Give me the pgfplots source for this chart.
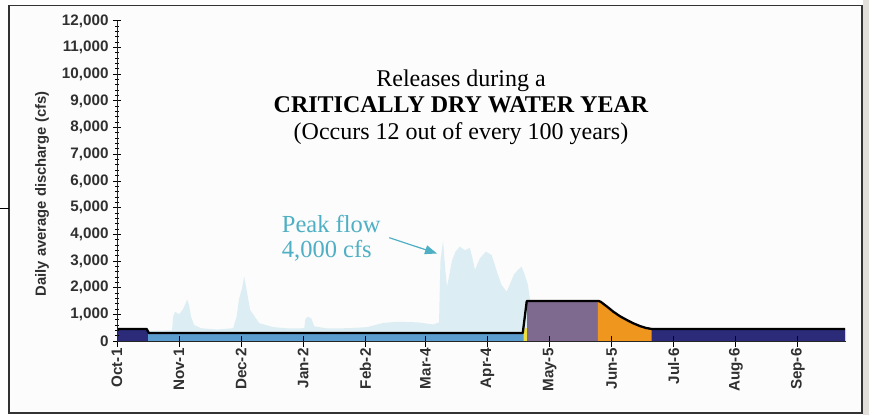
\documentclass[border=0pt]{standalone}
\usepackage{pgfplots}
\pgfplotsset{compat=1.18}
\usepackage{fontspec}
\setmainfont{Liberation Serif}
\newfontfamily\arial{Liberation Sans}
\usetikzlibrary{arrows.meta}
\definecolor{navyc}{HTML}{2B2B7A}
\definecolor{barblue}{HTML}{5C9DD0}
\definecolor{purplec}{HTML}{7E6A8E}
\definecolor{orangec}{HTML}{EF961F}
\definecolor{yellowc}{HTML}{EDE040}
\definecolor{cyanarea}{HTML}{DCEEF3}
\definecolor{teal}{HTML}{4FAFC4}
\definecolor{labgray}{HTML}{303030}
\begin{document}
\begin{tikzpicture}[x=1bp,y=1bp]
\path[use as bounding box] (0,0) rectangle (869,415);
\fill[white] (0,0) rectangle (869,415);
\fill[fill={rgb,255:red,226;green,223;blue,219}] (863,0) rectangle (869,415);
\fill[fill={rgb,255:red,251;green,252;blue,251}] (9,2) rectangle (862,409.5);
\draw[line width=1.3bp, black!80] (9,2) rectangle (862,409.5);
\draw[line width=0.8bp, black] (0,207) -- (9,207);
\begin{axis}[
  at={(117bp,74bp)}, anchor=south west,
  scale only axis, width=729bp, height=320bp,
  xmin=0, xmax=364, ymin=0, ymax=12000,
  axis x line=bottom, axis y line=left,
  axis line style={-, line width=1bp, black!85},
  axis on top=true,
  xtick={0,31,62,93,124,154,185,216,247,278,309,340},
  xticklabels={Oct-1,Nov-1,Dec-2,Jan-2,Feb-2,Mar-4,Apr-4,May-5,Jun-5,Jul-6,Aug-6,Sep-6},
  ytick={0,1000,...,12000},
  scaled y ticks=false,
  minor y tick num=4,
  tick align=center,
  major tick length=8bp,
  minor tick length=4bp,
  tick style={line width=1bp, black},
  xtick style={/pgfplots/major tick length=11bp},
  /pgf/number format/.cd, 1000 sep={,}, assume math mode=true, /pgfplots/.cd,
  yticklabel style={font=\arial\bfseries\fontsize{15.2bp}{16bp}\selectfont, text=labgray, xshift=-1bp},
  xticklabel style={font=\arial\bfseries\fontsize{15.2bp}{16bp}\selectfont, text=labgray, rotate=90, anchor=east, yshift=0bp},
  clip=false,
]
% unimpaired flow (light area)
\addplot[draw=none, fill=cyanarea] coordinates {
(0,350) (27.5,400) (28,900) (29,1100) (31,1000) (33,1200) (34.5,1450) (35,1550) (36,1350) (37,900) (38.5,600) (42,480)
(50,430) (58,480) (59.7,900) (61,1600) (62.5,2000) (63.5,2420) (64.5,2000) (66.5,1160) (71,670) (78,520)
(86,470) (93.5,480) (94,800) (95,910) (97,850) (98.5,550) (105,470) (115,480)
(125,520) (133,680) (140,720) (150,700) (158,620)
(160.8,700) (161.5,3000) (162.8,3760) (164,2600) (164.8,2040) (166,2500) (167.2,3000) (169,3350) (171.2,3540)
(173.7,3400) (176.2,3490) (177.5,3100) (178.7,2660) (180,2900) (181.2,3100) (184.2,3350) (187.1,3220)
(189.7,2600) (192,2100) (194.6,1850) (196,2100) (198.2,2500) (200,2650) (202,2790) (203.5,2500)
(205.2,2100) (207.2,1000) (209,500) (215,400) (364,400)
} \closedcycle;
% release components
\addplot[draw=none, fill=navyc] coordinates {(0,450) (14.8,450) (15.9,300) (15.9,0)} \closedcycle;
\addplot[draw=none, fill=barblue] coordinates {(15.5,300) (203.2,300) (203.2,0)} \closedcycle;
\addplot[draw=none, fill=yellowc] coordinates {(203.0,300) (203.6,480) (205,480) (205,0)} \closedcycle;
\addplot[draw=none, fill=purplec] coordinates {(204.8,1500) (240.3,1500) (240.3,0)} \closedcycle;
\addplot[draw=none, fill=orangec] coordinates {(240.1,1500) (241.1,1480) (244.5,1300) (247.8,1100) (251.1,930) (254.5,790) (257.6,670) (261.1,560) (264.1,490) (267.2,440) (267.2,0)} \closedcycle;
\addplot[draw=none, fill=navyc] coordinates {(267,450) (363.5,450) (363.5,0)} \closedcycle;
% total release line
\addplot[black, line width=2.3bp, line join=round] coordinates {
(0,450) (14.8,450) (15.9,300) (202.6,300) (204.6,1500) (240.5,1500) (241.5,1470) (244.5,1300) (247.8,1100) (251.1,930) (254.5,790) (257.6,670) (261.1,560) (264.1,490) (267,450) (363.5,450)
};
\end{axis}
% texts
\node[anchor=base, font=\fontsize{24bp}{26bp}\selectfont] at (461,329) {Releases during a};
\node[anchor=base, font=\bfseries\fontsize{24bp}{26bp}\selectfont] at (461,302.7) {CRITICALLY DRY WATER YEAR};
\node[anchor=base, font=\fontsize{24bp}{26bp}\selectfont] at (461,276) {(Occurs 12 out of every 100 years)};
\node[anchor=base west, inner sep=0pt, text=teal, font=\fontsize{24.5bp}{26bp}\selectfont] at (281.7,182.7) {Peak flow};
\node[anchor=base west, inner sep=0pt, text=teal, font=\fontsize{24.5bp}{26bp}\selectfont] at (281.7,157.5) {4,000 cfs};
\draw[teal, line width=1.2bp, -{Triangle[length=12bp,width=9bp]}] (389.3,177.3) -- (437,161.5);
\node[rotate=90, anchor=center, text=labgray, font=\arial\bfseries\fontsize{14.8bp}{16bp}\selectfont] at (42,221) {Daily average discharge (cfs)};
\end{tikzpicture}
\end{document}
